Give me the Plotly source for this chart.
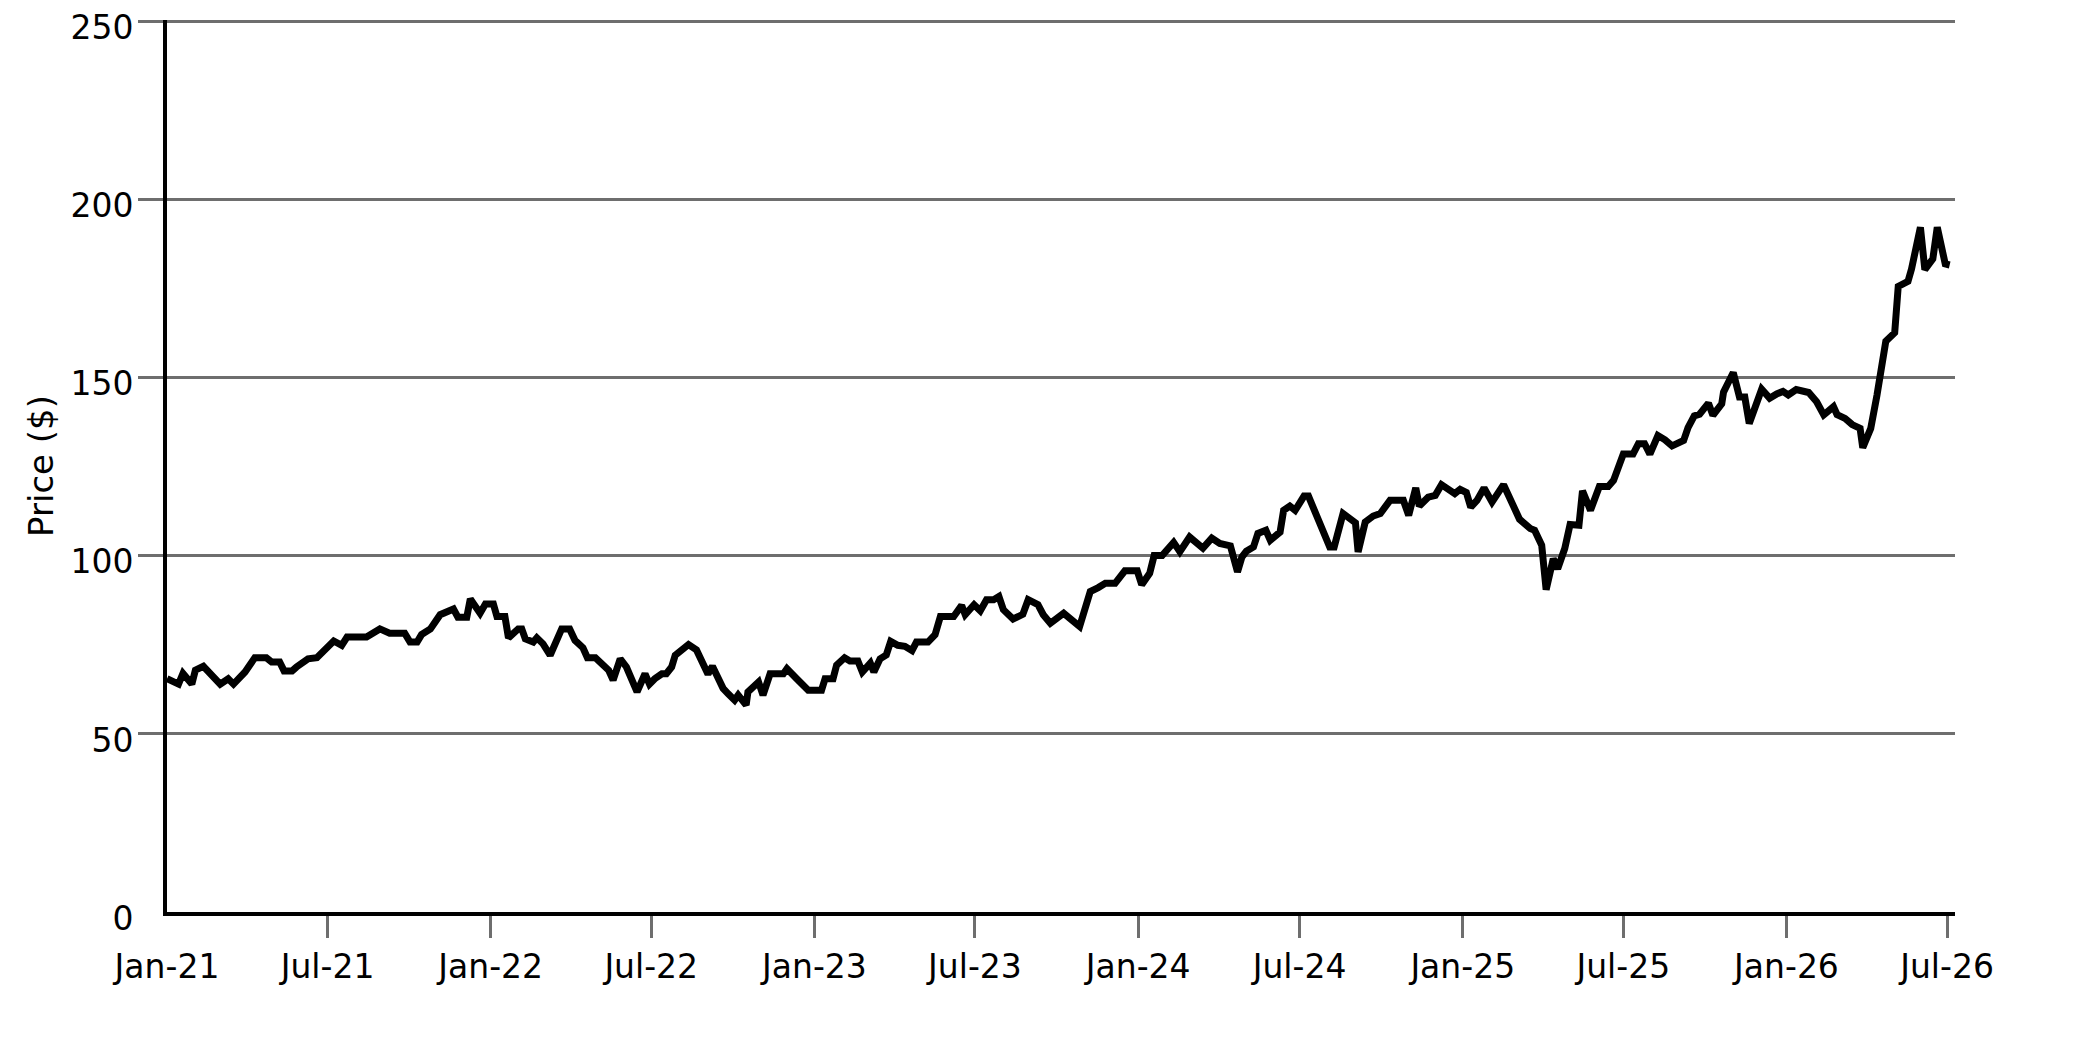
import plotly.graph_objects as go

# Price points, one block per year
dates_2021 = ["2021-01-01", "2021-01-14", "2021-01-19", "2021-01-29", "2021-02-02", "2021-02-11",
              "2021-03-02", "2021-03-11", "2021-03-17", "2021-03-30", "2021-04-10", "2021-04-23",
              "2021-04-29", "2021-05-08", "2021-05-13", "2021-05-22", "2021-05-27", "2021-06-06",
              "2021-06-09", "2021-06-19", "2021-07-08", "2021-07-17", "2021-07-23", "2021-08-14",
              "2021-08-20", "2021-08-29", "2021-09-09", "2021-09-26", "2021-10-02", "2021-10-10",
              "2021-10-15", "2021-10-25", "2021-11-05", "2021-11-10", "2021-11-20", "2021-11-25",
              "2021-12-05", "2021-12-09", "2021-12-20", "2021-12-26"]
price_2021 = [65.5, 64.0, 67.0, 64.0, 67.9, 69.0,
              64.0, 65.5, 64.0, 67.4, 71.4, 71.4,
              70.2, 70.2, 67.7, 67.7, 68.8, 70.2,
              71.1, 71.4, 76.1, 74.9, 77.2, 77.2,
              78.3, 79.5, 78.3, 78.3, 75.8, 75.8,
              77.9, 79.5, 83.5, 83.9, 85.1, 82.8,
              82.8, 87.9, 83.9, 86.5]

dates_2022 = ["2022-01-04", "2022-01-08", "2022-01-17", "2022-01-21", "2022-02-01", "2022-02-05",
              "2022-02-09", "2022-02-18", "2022-02-22", "2022-03-01", "2022-03-09", "2022-03-22",
              "2022-03-31", "2022-04-06", "2022-04-15", "2022-04-20", "2022-04-29", "2022-05-08",
              "2022-05-14", "2022-05-19", "2022-05-27", "2022-06-03", "2022-06-09", "2022-06-15",
              "2022-06-24", "2022-06-29", "2022-07-05", "2022-07-13", "2022-07-18", "2022-07-24",
              "2022-07-28", "2022-08-02", "2022-08-12", "2022-08-21", "2022-08-27", "2022-09-03",
              "2022-09-08", "2022-09-13", "2022-09-20", "2022-09-26", "2022-10-03", "2022-10-07",
              "2022-10-16", "2022-10-18", "2022-10-30", "2022-11-04", "2022-11-12", "2022-11-27",
              "2022-12-01", "2022-12-12", "2022-12-25"]
price_2022 = [86.5, 83.0, 83.0, 77.0, 79.5, 79.5,
              76.7, 75.8, 77.0, 75.3, 72.1, 79.5,
              79.5, 76.3, 74.2, 71.4, 71.4, 69.3,
              67.9, 65.1, 71.1, 68.8, 65.5, 61.8,
              66.9, 64.0, 65.5, 66.9, 66.9, 68.8,
              72.1, 73.0, 75.1, 73.6, 70.2, 66.8,
              69.0, 66.5, 62.8, 61.2, 59.5, 60.9,
              58.1, 61.8, 64.6, 60.9, 66.9, 66.9,
              68.3, 65.5, 62.3]

dates_2023 = ["2023-01-09", "2023-01-13", "2023-01-22", "2023-01-26", "2023-02-04", "2023-02-10",
              "2023-02-19", "2023-02-24", "2023-03-05", "2023-03-09", "2023-03-16", "2023-03-23",
              "2023-03-28", "2023-04-05", "2023-04-13", "2023-04-21", "2023-04-26", "2023-05-09",
              "2023-05-17", "2023-05-23", "2023-06-07", "2023-06-16", "2023-06-20", "2023-06-30",
              "2023-07-07", "2023-07-14", "2023-07-22", "2023-07-28", "2023-08-02", "2023-08-13",
              "2023-08-24", "2023-08-30", "2023-09-10", "2023-09-16", "2023-09-24", "2023-10-09",
              "2023-10-27", "2023-11-08", "2023-11-17", "2023-11-25", "2023-12-06", "2023-12-17",
              "2023-12-31"]
price_2023 = [62.3, 65.5, 65.5, 69.3, 71.4, 70.5,
              70.5, 67.4, 69.9, 67.4, 71.1, 72.2,
              76.0, 74.9, 74.6, 73.4, 75.8, 75.8,
              77.9, 83.0, 83.0, 86.1, 83.5, 86.3,
              84.6, 87.7, 87.7, 88.6, 84.9, 82.3,
              83.6, 87.7, 86.3, 83.5, 81.1, 83.9,
              80.2, 90.0, 91.1, 92.3, 92.3, 95.8,
              95.8]

dates_2024 = ["2024-01-05", "2024-01-14", "2024-01-19", "2024-01-28", "2024-02-10", "2024-02-17",
              "2024-02-28", "2024-03-14", "2024-03-24", "2024-04-02", "2024-04-08", "2024-04-14",
              "2024-04-22", "2024-04-27", "2024-05-02", "2024-05-10", "2024-05-15", "2024-05-24",
              "2024-05-29", "2024-06-09", "2024-06-13", "2024-06-20", "2024-06-26", "2024-07-06",
              "2024-07-11", "2024-07-22", "2024-07-29", "2024-08-04", "2024-08-09", "2024-08-19",
              "2024-09-02", "2024-09-05", "2024-09-13", "2024-09-22", "2024-09-30", "2024-10-11",
              "2024-10-26", "2024-11-01", "2024-11-09", "2024-11-13", "2024-11-23", "2024-12-01",
              "2024-12-08", "2024-12-16", "2024-12-23", "2024-12-29"]
price_2024 = [91.9, 95.1, 100.1, 100.1, 103.8, 101.2,
              105.3, 102.2, 105.0, 103.5, 103.0, 102.8,
              95.5, 99.7, 101.3, 102.5, 106.3, 107.2,
              104.4, 106.7, 112.8, 114.0, 112.8, 116.8,
              116.8, 110.3, 106.9, 102.5, 102.5, 111.9,
              109.3, 101.1, 109.5, 111.2, 111.9, 115.6,
              115.6, 111.4, 119.1, 114.0, 116.5, 117.0,
              120.0, 118.7, 117.5, 118.7]

dates_2025 = ["2025-01-05", "2025-01-10", "2025-01-17", "2025-01-25", "2025-02-03", "2025-02-16",
              "2025-02-25", "2025-03-06", "2025-03-18", "2025-03-23", "2025-03-31", "2025-04-05",
              "2025-04-13", "2025-04-18", "2025-04-26", "2025-05-02", "2025-05-12", "2025-05-16",
              "2025-05-25", "2025-06-04", "2025-06-14", "2025-06-20", "2025-07-01", "2025-07-12",
              "2025-07-18", "2025-07-25", "2025-07-31", "2025-08-09", "2025-08-17", "2025-08-25",
              "2025-09-07", "2025-09-12", "2025-09-19", "2025-09-25", "2025-10-05", "2025-10-10",
              "2025-10-20", "2025-10-22", "2025-11-02", "2025-11-09", "2025-11-15", "2025-11-20",
              "2025-12-04", "2025-12-13", "2025-12-21", "2025-12-28"]
price_2025 = [117.8, 113.7, 115.6, 119.1, 115.1, 120.0,
              115.6, 110.3, 107.7, 107.2, 103.0, 90.5,
              99.2, 96.4, 102.1, 108.8, 108.6, 118.3,
              112.8, 119.5, 119.5, 121.2, 128.6, 128.6,
              131.5, 131.5, 128.6, 133.8, 132.6, 130.9,
              132.4, 136.0, 139.3, 139.8, 142.9, 139.5,
              142.7, 146.0, 151.5, 144.6, 144.6, 137.2,
              146.8, 144.3, 145.5, 146.2]

dates_2026 = ["2026-01-03", "2026-01-12", "2026-01-26", "2026-02-04", "2026-02-12", "2026-02-23",
              "2026-02-27", "2026-03-08", "2026-03-16", "2026-03-25", "2026-03-28", "2026-04-06",
              "2026-04-13", "2026-04-23", "2026-05-03", "2026-05-07", "2026-05-18", "2026-05-22",
              "2026-06-01", "2026-06-06", "2026-06-15", "2026-06-20", "2026-06-29", "2026-07-04"]
price_2026 = [145.2, 146.7, 145.9, 143.3, 139.6, 141.9,
              139.7, 138.6, 136.9, 135.8, 130.4, 135.8,
              145.1, 160.3, 162.7, 175.7, 177.1, 180.6,
              192.3, 180.4, 183.4, 192.3, 182.0, 181.7]

dates = dates_2021 + dates_2022 + dates_2023 + dates_2024 + dates_2025 + dates_2026
prices = price_2021 + price_2022 + price_2023 + price_2024 + price_2025 + price_2026

tick_dates = ["2021-01-01", "2021-07-01", "2022-01-01", "2022-07-01", "2023-01-01", "2023-07-01",
              "2024-01-01", "2024-07-01", "2025-01-01", "2025-07-01", "2026-01-01", "2026-07-01"]
tick_labels = ["Jan-21", "Jul-21", "Jan-22", "Jul-22", "Jan-23", "Jul-23",
               "Jan-24", "Jul-24", "Jan-25", "Jul-25", "Jan-26", "Jul-26"]
price_ticks = [0, 50, 100, 150, 200, 250]

GRID = "#6e6e6e"

fig = go.Figure()
fig.add_trace(go.Scatter(
    x=dates, y=prices, mode="lines",
    line=dict(color="black", width=7),
    showlegend=False,
    hovertemplate="%{x|%d %b %Y}<br>$%{y:.2f}<extra></extra>",
))

# the page body adds 8px, so the margins are trimmed by that much
fig.update_layout(
    width=2075, height=1034,
    margin=dict(l=159, r=128, t=12, b=130, autoexpand=False),
    plot_bgcolor="white", paper_bgcolor="white",
    font=dict(family="DejaVu Sans", size=33, color="black"),
    xaxis=dict(type="date", range=["2021-01-01", "2026-07-10"],
               tickvals=tick_dates, ticktext=tick_labels, ticks="",
               # grey tick marks, none on the corner (Jan-21)
               minor=dict(tickmode="array", tickvals=tick_dates[1:], ticks="outside",
                          ticklen=22, tickwidth=3, tickcolor=GRID, showgrid=False),
               showgrid=False, zeroline=False, automargin=False, ticklabeloverflow="allow",
               showline=True, linecolor="black", linewidth=4, ticklabelstandoff=22),
    yaxis=dict(range=[0, 250.5], tickvals=price_ticks, ticks="",
               minor=dict(tickmode="array", tickvals=price_ticks[1:], ticks="outside",
                          ticklen=25, tickwidth=3, tickcolor=GRID, showgrid=False),
               showgrid=True, gridcolor=GRID, gridwidth=3, zeroline=False, automargin=False,
               # labels sit a little below their grid lines in the original
               ticklabeloverflow="allow", ticklabelshift=6,
               showline=True, linecolor="black", linewidth=4, ticklabelstandoff=23,
               title=dict(text="Price ($)", font=dict(size=34), standoff=8)),
)

fig.write_html("out.html")
